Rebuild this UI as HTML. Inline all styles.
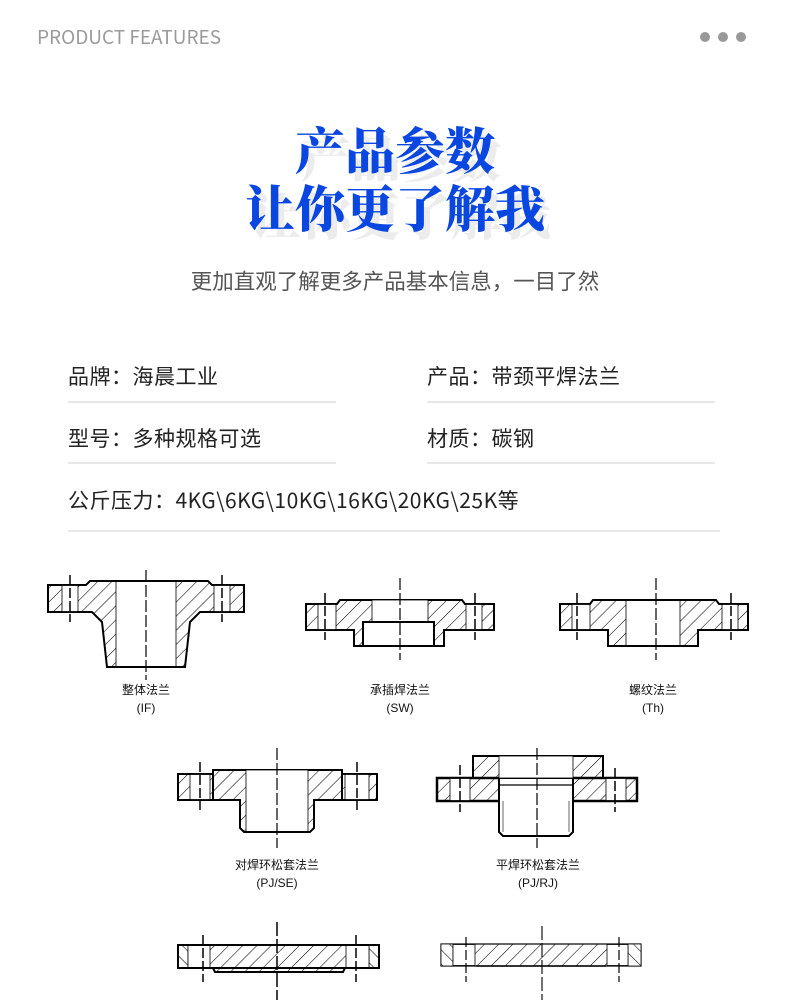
<!DOCTYPE html>
<html><head><meta charset="utf-8">
<style>
*{margin:0;padding:0;box-sizing:border-box}
body{width:790px;height:1000px;background:#fff;position:relative;overflow:hidden;font-family:"Noto Sans CJK SC","Liberation Sans",sans-serif}
.a{position:absolute;white-space:nowrap}
.hd{left:37px;top:24px;font-size:19px;line-height:26px;color:#9a9a9a}
.dot{position:absolute;top:32px;width:10px;height:10px;border-radius:50%;background:#999}
.t{left:0;width:790px;text-align:center;font-family:"Noto Serif CJK SC",serif;font-weight:900;font-size:50px;color:#0a47e0;text-shadow:6px 8px 0 rgba(200,200,200,0.35)}
.sub{left:0;width:790px;text-align:center;top:266px;font-size:21.5px;line-height:30px;color:#555}
.r{font-size:21px;line-height:30px;color:#222;letter-spacing:0.5px}
.ln{position:absolute;height:2px;background:#e8e8e8}
.lb{font-family:"Liberation Sans","Noto Sans CJK SC",sans-serif;font-size:12px;color:#111;text-align:center;width:120px;line-height:18px}
</style></head><body>
<div class="a hd">PRODUCT FEATURES</div>
<div class="dot" style="left:700px"></div><div class="dot" style="left:718px"></div><div class="dot" style="left:736px"></div>
<div class="a t" style="top:112px">产品参数</div>
<div class="a t" style="top:170px">让你更了解我</div>
<div class="a sub">更加直观了解更多产品基本信息，一目了然</div>
<div class="a r" style="left:68px;top:361px">品牌：海晨工业</div>
<div class="a r" style="left:427px;top:361px">产品：带颈平焊法兰</div>
<div class="ln" style="left:68px;top:401px;width:268px"></div>
<div class="ln" style="left:427px;top:401px;width:288px"></div>
<div class="a r" style="left:68px;top:423px">型号：多种规格可选</div>
<div class="a r" style="left:427px;top:423px">材质：碳钢</div>
<div class="ln" style="left:68px;top:462px;width:268px"></div>
<div class="ln" style="left:427px;top:462px;width:288px"></div>
<div class="a r" style="left:68px;top:485px">公斤压力：4KG\6KG\10KG\16KG\20KG\25K等</div>
<div class="ln" style="left:68px;top:530px;width:652px"></div>

<svg class="a" style="left:0;top:0" width="790" height="1000" viewBox="0 0 790 1000">
<defs>
<pattern id="h" width="10" height="10" patternUnits="userSpaceOnUse" patternTransform="rotate(45)">
<rect width="10" height="10" fill="#fff"/><line x1="0" y1="0" x2="0" y2="10" stroke="#000" stroke-width="1.1"/></pattern>
<pattern id="h2" width="10" height="10" patternUnits="userSpaceOnUse" patternTransform="rotate(-45)">
<rect width="10" height="10" fill="#fff"/><line x1="0" y1="0" x2="0" y2="10" stroke="#000" stroke-width="1.1"/></pattern>
</defs>
<g stroke="#000" fill="none">
<polygon points="48,585 86,585 90,581 208,581 212,585 244,585 244,612 200,612 190,622 185,667 107,667 102,622 92,612 48,612" fill="url(#h)" stroke-width="2"/>
<rect x="116" y="581" width="60" height="86" fill="#fff" stroke-width="0.8"/>
<rect x="62" y="585.5" width="16" height="26" fill="#fff" stroke-width="0.8"/>
<rect x="214" y="585.5" width="16" height="26" fill="#fff" stroke-width="0.8"/>
<line x1="116" y1="581" x2="176" y2="581" stroke-width="2"/><line x1="107" y1="667" x2="185" y2="667" stroke-width="2"/>
<line x1="70" y1="575" x2="70" y2="622" stroke-width="1.5" stroke-dasharray="10,3"/>
<line x1="222" y1="575" x2="222" y2="622" stroke-width="1.5" stroke-dasharray="10,3"/>
<line x1="146" y1="570" x2="146" y2="680" stroke-width="1.2" stroke-dasharray="12,3"/>
<polygon points="306,604 337,604 340,600 462,600 465,604 494,604 494,630 444,630 444,646 354,646 354,630 306,630" fill="url(#h)" stroke-width="2"/>
<rect x="372" y="600" width="56" height="22" fill="#fff" stroke-width="0.8"/>
<rect x="363" y="622" width="71" height="24" fill="#fff" stroke-width="2"/>
<rect x="318" y="604.5" width="18" height="25" fill="#fff" stroke-width="0.8"/>
<rect x="466" y="604.5" width="16" height="25" fill="#fff" stroke-width="0.8"/>
<line x1="325" y1="593" x2="325" y2="640" stroke-width="1.5" stroke-dasharray="10,3"/>
<line x1="475" y1="593" x2="475" y2="640" stroke-width="1.5" stroke-dasharray="10,3"/>
<line x1="400" y1="578" x2="400" y2="660" stroke-width="1.2" stroke-dasharray="12,3"/>
<polygon points="560,604 590,604 593,600 716,600 719,604 748,604 748,630 698,630 698,646 608,646 608,630 560,630" fill="url(#h)" stroke-width="2"/>
<rect x="626" y="600" width="54" height="46" fill="#fff" stroke-width="0.8"/>
<line x1="626" y1="600" x2="680" y2="600" stroke-width="2"/><line x1="626" y1="646" x2="680" y2="646" stroke-width="2"/>
<rect x="572" y="604.5" width="18" height="25" fill="#fff" stroke-width="0.8"/>
<rect x="722" y="604.5" width="16" height="25" fill="#fff" stroke-width="0.8"/>
<line x1="577" y1="593" x2="577" y2="640" stroke-width="1.5" stroke-dasharray="10,3"/>
<line x1="731" y1="593" x2="731" y2="640" stroke-width="1.5" stroke-dasharray="10,3"/>
<line x1="656" y1="578" x2="656" y2="660" stroke-width="1.2" stroke-dasharray="12,3"/>
<rect x="178" y="774" width="199" height="26" fill="url(#h)" stroke-width="2"/>
<polygon points="213,770 342,770 342,800 314,800 314,828 310,832 244,832 240,828 240,800 213,800" fill="url(#h)" stroke-width="2"/>
<rect x="246" y="770" width="62" height="62" fill="#fff" stroke-width="0.8"/>
<line x1="244" y1="832" x2="310" y2="832" stroke-width="2"/>
<rect x="190" y="774.5" width="20" height="25" fill="#fff" stroke-width="0.8"/>
<rect x="345" y="774.5" width="24" height="25" fill="#fff" stroke-width="0.8"/>
<line x1="200" y1="762" x2="200" y2="810" stroke-width="1.5" stroke-dasharray="10,3"/>
<line x1="357" y1="762" x2="357" y2="810" stroke-width="1.5" stroke-dasharray="10,3"/>
<line x1="277" y1="748" x2="277" y2="848" stroke-width="1.2" stroke-dasharray="12,3"/>
<rect x="473" y="756" width="130" height="22" fill="url(#h)" stroke-width="2"/>
<rect x="437" y="778" width="200" height="23" fill="url(#h)" stroke-width="2.5"/>
<polygon points="499,778 573,778 573,832 569,836 503,836 499,832" fill="#fff" stroke-width="2"/>
<rect x="499" y="756" width="74" height="22" fill="#fff" stroke-width="0.8"/>
<line x1="499" y1="785" x2="573" y2="785" stroke-width="1.2"/>
<line x1="503" y1="801" x2="503" y2="832" stroke-width="0.6"/><line x1="569" y1="801" x2="569" y2="832" stroke-width="0.6"/>
<rect x="450" y="778.5" width="20" height="22" fill="#fff" stroke-width="0.8"/>
<rect x="606" y="778.5" width="20" height="22" fill="#fff" stroke-width="0.8"/>
<line x1="460" y1="765" x2="460" y2="812" stroke-width="1.5" stroke-dasharray="10,3"/>
<line x1="615" y1="768" x2="615" y2="812" stroke-width="1.5" stroke-dasharray="10,3"/>
<line x1="537" y1="748" x2="537" y2="848" stroke-width="1.2" stroke-dasharray="12,3"/>
<polygon points="178,945 379,945 379,968 345,968 343,972 215,972 213,968 178,968" fill="url(#h)" stroke-width="2"/>
<rect x="178" y="945" width="10" height="23" fill="url(#h2)" stroke-width="0.8"/>
<rect x="369" y="945" width="10" height="23" fill="url(#h2)" stroke-width="0.8"/>
<rect x="188" y="945.5" width="22" height="22" fill="#fff" stroke-width="0.8"/>
<rect x="346" y="945.5" width="23" height="22" fill="#fff" stroke-width="0.8"/>
<rect x="178" y="945" width="201" height="23" stroke-width="2"/>
<line x1="203" y1="935" x2="203" y2="982" stroke-width="1.5" stroke-dasharray="10,3"/>
<line x1="356" y1="935" x2="356" y2="982" stroke-width="1.5" stroke-dasharray="10,3"/>
<line x1="277" y1="922" x2="277" y2="1000" stroke-width="1.5" stroke-dasharray="14,3"/>
<rect x="441" y="944" width="200" height="22" fill="url(#h)" stroke-width="1.2"/>
<rect x="441" y="944" width="12" height="22" fill="url(#h2)" stroke-width="0.8"/>
<rect x="628" y="944" width="13" height="22" fill="url(#h2)" stroke-width="0.8"/>
<rect x="453" y="944.5" width="22" height="21" fill="#fff" stroke-width="0.8"/>
<rect x="607" y="944.5" width="21" height="21" fill="#fff" stroke-width="0.8"/>
<line x1="476" y1="966" x2="606" y2="966" stroke-width="1.5"/>
<line x1="466" y1="937" x2="466" y2="982" stroke-width="1.2" stroke-dasharray="10,3"/>
<line x1="619" y1="937" x2="619" y2="982" stroke-width="1.2" stroke-dasharray="10,3"/>
<line x1="542" y1="926" x2="542" y2="1000" stroke-width="1.1" stroke-dasharray="14,3"/>
</g>
</svg>
<div class="a lb" style="left:86px;top:681px">整体法兰<br>(IF)</div>
<div class="a lb" style="left:340px;top:681px">承插焊法兰<br>(SW)</div>
<div class="a lb" style="left:593px;top:681px">螺纹法兰<br>(Th)</div>
<div class="a lb" style="left:217px;top:856px">对焊环松套法兰<br>(PJ/SE)</div>
<div class="a lb" style="left:478px;top:856px">平焊环松套法兰<br>(PJ/RJ)</div>
</body></html>
